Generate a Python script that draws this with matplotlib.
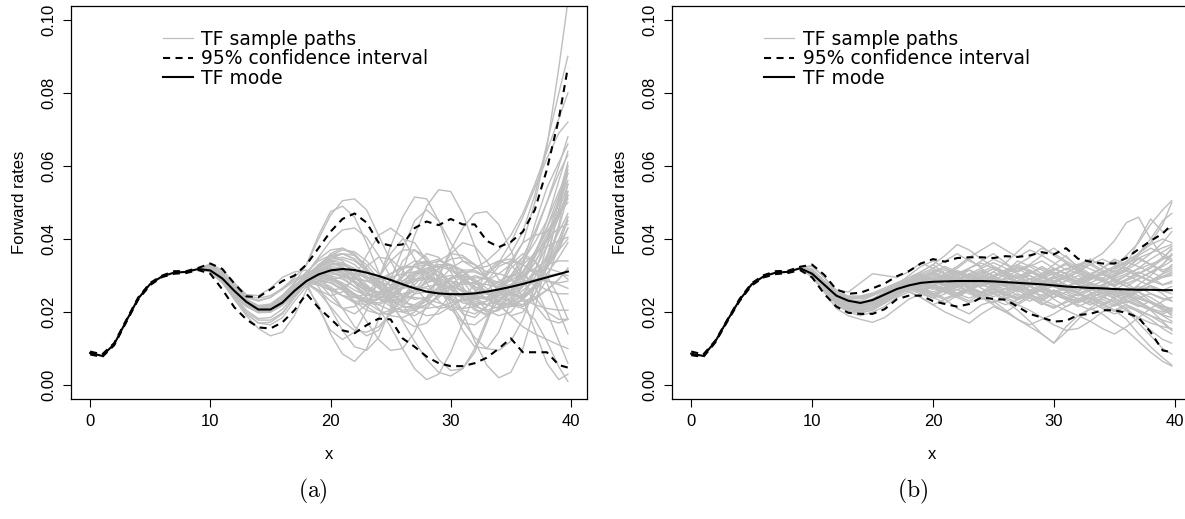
import numpy as np
import matplotlib
matplotlib.use("Agg")
import matplotlib.pyplot as plt

# maturities where the mode / confidence band are read
x_grid = list(range(0, 40)) + [39.75]
# sample paths are only kept from x=9 on (before that they sit on the mode)
x_path = list(range(9, 40)) + [39.75]

# ---- panel (a), all values in percent ----
mode_a = [0.88, 0.80, 1.12, 1.75, 2.37, 2.77, 2.98, 3.08, 3.10, 3.18, 3.14, 2.92, 2.58, 2.28, 2.07,
          2.07, 2.26, 2.58, 2.85, 3.03, 3.14, 3.18, 3.15, 3.08, 2.99, 2.88, 2.76, 2.65, 2.56, 2.51,
          2.49, 2.49, 2.51, 2.56, 2.62, 2.69, 2.77, 2.86, 2.95, 3.04, 3.11]
upper_a = [0.92, 0.84, 1.15, 1.78, 2.40, 2.80, 3.00, 3.12, 3.12, 3.21, 3.33, 3.18, 2.78, 2.43, 2.41,
           2.62, 2.85, 3.00, 3.30, 3.75, 4.20, 4.55, 4.70, 4.45, 3.90, 3.82, 3.85, 4.30, 4.48, 4.38,
           4.55, 4.40, 4.40, 3.95, 3.78, 3.92, 4.20, 4.80, 5.90, 7.30, 8.70]
lower_a = [0.84, 0.77, 1.09, 1.72, 2.34, 2.74, 2.96, 3.05, 3.07, 3.15, 3.05, 2.62, 2.13, 1.80, 1.58,
           1.55, 1.72, 2.05, 2.50, 2.12, 1.82, 1.50, 1.42, 1.64, 1.82, 1.80, 1.28, 1.05, 0.78, 0.60,
           0.52, 0.52, 0.60, 0.75, 1.00, 1.28, 0.90, 0.90, 0.90, 0.55, 0.48]
paths_a = [
    [3.18, 3.30, 3.10, 2.70, 2.40, 2.30, 2.40, 2.65, 2.95, 3.30, 4.00, 4.65, 5.05, 5.10, 4.80, 4.10,
     3.40, 2.80, 2.50, 2.55, 2.85, 3.20, 3.40, 3.30, 2.95, 2.60, 2.50, 2.80, 3.50, 4.50, 5.60, 6.40],
    [3.18, 3.20, 2.85, 2.35, 1.95, 1.70, 1.65, 1.85, 2.30, 2.70, 2.20, 1.40, 0.85, 0.65, 1.00, 1.80,
     2.70, 3.40, 3.70, 3.50, 2.95, 2.35, 1.95, 1.85, 2.15, 2.70, 3.30, 3.60, 3.40, 2.80, 2.00, 1.40],
    [3.18, 3.25, 3.00, 2.62, 2.30, 2.15, 2.20, 2.45, 2.75, 2.95, 2.80, 2.45, 2.10, 1.95, 2.20, 2.90,
     3.80, 4.60, 5.15, 5.10, 4.50, 3.60, 2.70, 2.10, 1.90, 2.10, 2.60, 3.30, 4.10, 5.00, 6.00, 6.80],
    [3.18, 3.10, 2.80, 2.45, 2.15, 2.00, 2.05, 2.30, 2.70, 3.00, 2.70, 2.10, 1.50, 1.05, 0.95, 1.30,
     2.10, 3.10, 4.10, 4.90, 5.35, 5.30, 4.70, 3.80, 2.90, 2.20, 1.90, 2.00, 2.50, 3.30, 4.40, 5.50],
    [3.18, 3.28, 3.05, 2.70, 2.35, 2.15, 2.15, 2.35, 2.70, 3.05, 3.45, 3.70, 3.75, 3.55, 3.20, 2.80,
     2.30, 1.75, 1.20, 0.70, 0.35, 0.25, 0.45, 1.00, 1.80, 2.60, 3.20, 3.50, 3.40, 3.00, 2.40, 1.80],
    [3.18, 3.15, 2.90, 2.55, 2.22, 2.02, 2.00, 2.20, 2.55, 2.95, 3.30, 3.40, 3.20, 2.80, 2.40, 2.10,
     1.60, 1.00, 0.45, 0.15, 0.30, 0.90, 1.70, 2.50, 3.10, 3.40, 3.30, 2.90, 2.40, 2.00, 1.80, 1.80],
    [3.18, 3.22, 2.98, 2.62, 2.30, 2.12, 2.15, 2.38, 2.72, 3.00, 3.25, 3.40, 3.35, 3.10, 2.75, 2.45,
     2.30, 2.35, 2.60, 3.00, 3.40, 3.60, 3.55, 3.30, 3.10, 3.05, 3.30, 3.90, 5.00, 6.50, 8.70, 10.50],
    [3.18, 3.18, 2.92, 2.55, 2.22, 2.05, 2.10, 2.35, 2.70, 2.90, 2.75, 2.60, 2.65, 2.90, 3.25, 3.50,
     3.45, 3.15, 2.70, 2.30, 2.10, 2.15, 2.40, 2.75, 3.05, 3.30, 3.60, 4.20, 5.20, 6.60, 8.00, 9.00],
    [3.18, 3.12, 2.86, 2.50, 2.18, 2.00, 2.02, 2.22, 2.55, 2.85, 3.05, 3.10, 2.95, 2.70, 2.40, 2.20,
     2.05, 2.00, 2.05, 2.20, 2.45, 2.75, 3.00, 3.20, 3.40, 3.70, 4.10, 4.70, 5.50, 6.40, 7.30, 8.00],
    [3.18, 3.20, 2.95, 2.58, 2.25, 2.08, 2.10, 2.30, 2.62, 2.90, 3.20, 3.45, 3.60, 3.55, 3.30, 2.90,
     2.50, 2.25, 2.20, 2.40, 2.70, 2.95, 3.00, 2.85, 2.55, 2.30, 2.20, 2.10, 1.80, 1.20, 0.50, 0.10],
    [3.18, 3.14, 2.88, 2.52, 2.20, 2.02, 2.05, 2.25, 2.55, 2.80, 2.60, 2.30, 2.10, 2.15, 2.45, 2.95,
     3.40, 3.70, 3.70, 3.40, 2.90, 2.40, 2.05, 1.95, 2.15, 2.60, 3.00, 3.10, 2.70, 2.00, 1.20, 0.60],
    [3.18, 3.24, 3.02, 2.68, 2.35, 2.18, 2.22, 2.46, 2.80, 3.10, 3.40, 3.55, 3.40, 3.00, 2.60, 2.50,
     2.90, 3.70, 4.50, 4.80, 4.50, 3.90, 3.40, 3.20, 3.25, 3.40, 3.45, 3.30, 3.10, 3.20, 3.70, 4.30],
    [3.18, 3.16, 2.90, 2.55, 2.24, 2.06, 2.06, 2.24, 2.55, 2.80, 2.10, 1.50, 1.25, 1.45, 2.05, 2.90,
     3.60, 4.00, 3.90, 3.40, 2.70, 2.10, 1.70, 1.65, 1.90, 2.30, 2.70, 3.00, 3.20, 3.40, 3.70, 4.00],
    [3.18, 3.12, 2.85, 2.48, 2.16, 1.98, 2.00, 2.22, 2.55, 2.85, 3.20, 3.50, 3.60, 3.45, 3.15, 2.85,
     2.55, 2.20, 1.75, 1.20, 0.70, 0.40, 0.45, 0.90, 1.70, 2.60, 3.40, 3.90, 4.10, 4.20, 4.60, 5.30],
    [3.18, 3.16, 2.92, 2.60, 2.28, 2.10, 2.12, 2.32, 2.65, 2.95, 3.10, 3.00, 2.70, 2.25, 1.75, 1.25,
     0.95, 1.00, 1.45, 2.20, 3.00, 3.60, 3.90, 3.80, 3.40, 2.90, 2.50, 2.40, 2.70, 3.50, 4.80, 6.00],
    [3.18, 3.17, 2.93, 2.60, 2.27, 2.08, 2.08, 2.27, 2.58, 2.85, 3.10, 3.30, 3.35, 3.20, 2.95, 2.75,
     2.65, 2.65, 2.70, 2.65, 2.50, 2.35, 2.30, 2.40, 2.60, 2.85, 3.00, 3.00, 2.80, 2.60, 2.50, 2.50],
    [3.18, 3.15, 2.90, 2.56, 2.25, 2.08, 2.10, 2.30, 2.62, 2.80, 2.85, 2.90, 2.95, 2.95, 2.85, 2.70,
     2.55, 2.45, 2.40, 2.35, 2.25, 2.15, 2.10, 2.15, 2.30, 2.55, 2.90, 3.30, 3.60, 3.80, 3.95, 4.05],
    [3.18, 3.10, 2.80, 2.35, 1.90, 1.55, 1.35, 1.45, 1.90, 2.60, 3.20, 3.60, 3.75, 3.60, 3.20, 2.70,
     2.20, 1.80, 1.60, 1.70, 2.05, 2.50, 2.85, 3.00, 2.90, 2.60, 2.30, 2.20, 2.50, 3.20, 4.30, 5.20],
    [3.18, 3.32, 3.15, 2.80, 2.48, 2.45, 2.65, 2.95, 3.10, 3.15, 3.00, 2.60, 2.10, 1.60, 1.35, 1.50,
     2.00, 2.70, 3.30, 3.60, 3.50, 3.10, 2.60, 2.20, 2.00, 2.05, 2.30, 2.70, 3.10, 3.30, 3.40, 3.40],
    [3.18, 3.19, 2.94, 2.60, 2.28, 2.10, 2.12, 2.32, 2.64, 2.92, 3.20, 3.35, 3.25, 2.95, 2.65, 2.50,
     2.60, 2.95, 3.30, 3.35, 2.95, 2.25, 1.50, 1.05, 1.00, 1.45, 2.30, 3.30, 4.40, 5.40, 6.10, 6.60],
    [3.18, 3.21, 2.97, 2.62, 2.30, 2.12, 2.14, 2.36, 2.70, 3.05, 3.50, 3.95, 4.25, 4.30, 4.05, 3.55,
     2.95, 2.40, 2.05, 1.90, 1.95, 2.15, 2.35, 2.45, 2.40, 2.20, 1.90, 1.60, 1.40, 1.25, 1.10, 1.00],
    [3.18, 3.13, 2.87, 2.50, 2.18, 2.00, 2.00, 2.18, 2.48, 2.75, 2.85, 2.80, 2.65, 2.45, 2.25, 2.05,
     1.90, 1.85, 2.00, 2.40, 3.00, 3.70, 4.30, 4.70, 4.75, 4.40, 3.70, 2.90, 2.20, 1.80, 1.70, 1.80],
    [3.18, 3.17, 2.91, 2.57, 2.26, 2.08, 2.09, 2.28, 2.60, 2.88, 3.05, 3.15, 3.15, 3.05, 2.95, 2.90,
     2.95, 3.05, 3.10, 3.00, 2.70, 2.25, 1.75, 1.30, 1.00, 0.95, 1.20, 1.80, 2.70, 3.80, 5.00, 5.90],
    [3.18, 3.16, 2.91, 2.57, 2.25, 2.07, 2.08, 2.27, 2.58, 2.88, 3.00, 2.95, 2.80, 2.60, 2.45, 2.45,
     2.60, 2.85, 3.05, 3.10, 3.00, 2.85, 2.75, 2.80, 3.00, 3.35, 3.90, 4.60, 5.40, 6.20, 6.90, 7.20],
    [3.18, 3.15, 2.89, 2.53, 2.21, 2.03, 2.04, 2.24, 2.56, 2.78, 2.55, 2.15, 1.75, 1.50, 1.45, 1.60,
     1.95, 2.40, 2.85, 3.15, 3.25, 3.15, 2.90, 2.60, 2.35, 2.20, 2.15, 2.20, 2.35, 2.60, 2.90, 3.20],
    [3.18, 3.26, 3.04, 2.68, 2.34, 2.16, 2.18, 2.42, 2.80, 3.30, 4.10, 4.75, 4.90, 4.60, 3.90, 3.10,
     2.40, 2.00, 1.90, 2.10, 2.50, 2.90, 3.15, 3.15, 2.95, 2.65, 2.45, 2.45, 2.70, 3.20, 3.90, 4.50],
    [3.18, 3.20, 2.96, 2.62, 2.30, 2.12, 2.13, 2.33, 2.66, 2.95, 3.15, 3.20, 3.05, 2.80, 2.60, 2.55,
     2.70, 3.00, 3.30, 3.40, 3.20, 2.70, 2.00, 1.20, 0.55, 0.20, 0.35, 1.00, 2.10, 3.40, 4.80, 5.80],
    [3.18, 3.14, 2.89, 2.54, 2.23, 2.05, 2.06, 2.26, 2.58, 2.85, 3.00, 3.05, 3.00, 2.90, 2.85, 2.90,
     3.05, 3.20, 3.25, 3.10, 2.80, 2.50, 2.40, 2.55, 2.85, 3.05, 2.95, 2.40, 1.50, 0.60, 0.15, 0.30],
    [3.18, 3.18, 2.93, 2.59, 2.27, 2.09, 2.10, 2.29, 2.60, 2.80, 2.60, 2.45, 2.55, 2.95, 3.55, 4.10,
     4.30, 4.05, 3.45, 2.80, 2.30, 2.05, 2.10, 2.40, 2.85, 3.25, 3.40, 3.30, 3.05, 2.85, 2.80, 2.85],
    [3.18, 3.17, 2.92, 2.58, 2.26, 2.08, 2.09, 2.28, 2.59, 2.90, 3.15, 3.25, 3.20, 3.00, 2.70, 2.40,
     2.15, 2.05, 2.10, 2.30, 2.60, 2.90, 3.10, 3.10, 2.95, 2.80, 2.85, 3.10, 3.60, 4.20, 4.70, 5.00],
    [3.18, 3.16, 2.93, 2.60, 2.29, 2.11, 2.12, 2.31, 2.62, 2.92, 3.25, 3.55, 3.70, 3.65, 3.40, 3.05,
     2.70, 2.45, 2.35, 2.40, 2.55, 2.70, 2.80, 2.80, 2.75, 2.70, 2.75, 2.95, 3.35, 3.95, 4.70, 5.30],
    [3.18, 3.13, 2.87, 2.52, 2.20, 2.02, 2.03, 2.22, 2.53, 2.82, 2.95, 2.90, 2.70, 2.45, 2.25, 2.20,
     2.35, 2.65, 3.00, 3.30, 3.40, 3.30, 3.00, 2.65, 2.35, 2.20, 2.25, 2.50, 2.95, 3.55, 4.20, 4.70],
    [3.18, 3.19, 2.95, 2.61, 2.29, 2.10, 2.11, 2.30, 2.61, 2.88, 3.00, 2.95, 2.75, 2.50, 2.30, 2.25,
     2.40, 2.70, 3.05, 3.35, 3.45, 3.25, 2.85, 2.40, 2.05, 1.90, 2.00, 2.40, 3.10, 4.00, 5.10, 6.00],
    [3.18, 3.15, 2.90, 2.55, 2.23, 2.05, 2.06, 2.25, 2.56, 2.86, 3.10, 3.20, 3.10, 2.85, 2.55, 2.35,
     2.30, 2.40, 2.60, 2.80, 2.90, 2.85, 2.65, 2.40, 2.20, 2.10, 2.15, 2.35, 2.65, 3.05, 3.50, 3.90],
    [3.18, 3.17, 2.92, 2.58, 2.26, 2.08, 2.08, 2.27, 2.58, 2.87, 3.00, 3.00, 2.90, 2.70, 2.50, 2.40,
     2.45, 2.65, 2.95, 3.20, 3.30, 3.20, 2.95, 2.70, 2.55, 2.55, 2.75, 3.10, 3.60, 4.30, 5.20, 6.10],
    [3.18, 3.14, 2.88, 2.45, 2.00, 1.78, 1.78, 1.98, 2.40, 2.80, 2.80, 2.65, 2.45, 2.30, 2.30, 2.50,
     2.85, 3.20, 3.40, 3.35, 3.10, 2.75, 2.40, 2.15, 2.05, 2.15, 2.40, 2.75, 3.05, 3.20, 3.10, 2.90],
    [3.18, 3.18, 2.94, 2.60, 2.28, 2.10, 2.10, 2.29, 2.60, 2.90, 3.20, 3.40, 3.45, 3.30, 3.00, 2.65,
     2.35, 2.15, 2.10, 2.20, 2.40, 2.65, 2.85, 2.95, 2.90, 2.75, 2.55, 2.35, 2.20, 2.10, 2.05, 2.05],
    [3.18, 3.15, 2.91, 2.57, 2.25, 2.07, 2.07, 2.26, 2.57, 2.86, 3.05, 3.10, 3.00, 2.80, 2.55, 2.35,
     2.25, 2.30, 2.50, 2.85, 3.20, 3.45, 3.50, 3.30, 2.95, 2.55, 2.25, 2.15, 2.35, 2.90, 3.80, 4.60],
    [3.18, 3.16, 2.91, 2.56, 2.24, 2.06, 2.07, 2.26, 2.58, 2.84, 2.90, 2.80, 2.60, 2.40, 2.30, 2.35,
     2.55, 2.85, 3.10, 3.20, 3.10, 2.85, 2.55, 2.30, 2.20, 2.30, 2.60, 3.05, 3.55, 4.00, 4.30, 4.40],
    [3.18, 3.25, 3.05, 2.75, 2.45, 2.38, 2.45, 2.65, 2.90, 3.05, 3.25, 3.45, 3.50, 3.40, 3.15, 2.85,
     2.55, 2.30, 2.15, 2.10, 2.15, 2.25, 2.35, 2.40, 2.40, 2.35, 2.30, 2.30, 2.40, 2.60, 2.90, 3.20],
    [3.18, 3.13, 2.86, 2.50, 2.18, 2.00, 2.02, 2.22, 2.54, 2.83, 2.95, 2.85, 2.60, 2.30, 2.05, 1.95,
     2.05, 2.35, 2.75, 3.10, 3.30, 3.30, 3.10, 2.80, 2.55, 2.45, 2.55, 2.85, 3.35, 4.00, 4.80, 5.50],
    [3.18, 3.17, 2.93, 2.59, 2.27, 2.09, 2.09, 2.28, 2.59, 2.89, 3.10, 3.15, 3.05, 2.85, 2.65, 2.55,
     2.60, 2.75, 2.90, 2.95, 2.85, 2.65, 2.45, 2.35, 2.40, 2.60, 2.95, 3.40, 3.90, 4.50, 5.30, 5.80],
    [3.18, 3.20, 2.96, 2.63, 2.31, 2.13, 2.14, 2.34, 2.67, 2.97, 3.30, 3.55, 3.60, 3.45, 3.10, 2.70,
     2.35, 2.15, 2.15, 2.35, 2.65, 2.90, 3.00, 2.90, 2.65, 2.40, 2.30, 2.40, 2.75, 3.30, 4.00, 4.60],
    [3.18, 3.12, 2.82, 2.40, 1.95, 1.70, 1.72, 1.95, 2.40, 2.78, 2.75, 2.60, 2.45, 2.40, 2.50, 2.75,
     3.05, 3.25, 3.25, 3.05, 2.75, 2.45, 2.25, 2.20, 2.30, 2.50, 2.70, 2.85, 2.90, 2.85, 2.75, 2.65],
    [3.18, 3.16, 2.92, 2.58, 2.26, 2.08, 2.08, 2.27, 2.58, 2.88, 3.10, 3.20, 3.15, 2.95, 2.70, 2.50,
     2.40, 2.45, 2.60, 2.80, 2.95, 3.00, 2.90, 2.70, 2.50, 2.40, 2.45, 2.70, 3.15, 3.80, 4.60, 5.20],
    [3.18, 3.15, 2.90, 2.55, 2.23, 2.05, 2.05, 2.24, 2.55, 2.85, 3.00, 2.95, 2.75, 2.45, 2.15, 1.95,
     1.95, 2.15, 2.50, 2.90, 3.20, 3.30, 3.15, 2.85, 2.50, 2.25, 2.20, 2.35, 2.70, 3.20, 3.80, 4.30],
    [3.18, 3.22, 3.00, 2.70, 2.42, 2.32, 2.40, 2.62, 2.85, 3.00, 3.15, 3.30, 3.30, 3.15, 2.95, 2.80,
     2.75, 2.80, 2.90, 2.95, 2.90, 2.75, 2.55, 2.40, 2.35, 2.45, 2.70, 3.10, 3.65, 4.30, 5.00, 5.60],
    [3.18, 3.14, 2.86, 2.45, 2.05, 1.82, 1.85, 2.08, 2.45, 2.82, 2.85, 2.70, 2.45, 2.25, 2.20, 2.35,
     2.65, 3.00, 3.25, 3.30, 3.10, 2.75, 2.35, 2.05, 1.95, 2.05, 2.30, 2.60, 2.85, 3.00, 3.05, 3.00],
    [3.18, 3.17, 2.92, 2.58, 2.27, 2.09, 2.10, 2.29, 2.60, 2.89, 3.15, 3.30, 3.30, 3.15, 2.90, 2.65,
     2.50, 2.50, 2.60, 2.70, 2.75, 2.70, 2.60, 2.50, 2.50, 2.65, 3.00, 3.50, 4.20, 5.00, 5.80, 6.30],
    [3.18, 3.15, 2.90, 2.55, 2.23, 2.05, 2.06, 2.25, 2.57, 2.84, 2.95, 2.90, 2.70, 2.50, 2.35, 2.35,
     2.50, 2.70, 2.85, 2.90, 2.80, 2.60, 2.40, 2.25, 2.20, 2.30, 2.55, 2.95, 3.50, 4.10, 4.70, 5.10],
]

# ---- panel (b), all values in percent ----
mode_b = [0.86, 0.80, 1.20, 1.78, 2.33, 2.76, 2.98, 3.08, 3.10, 3.20, 3.05, 2.75, 2.45, 2.31, 2.25,
          2.33, 2.48, 2.63, 2.73, 2.80, 2.83, 2.84, 2.85, 2.85, 2.85, 2.84, 2.82, 2.80, 2.78, 2.76,
          2.73, 2.70, 2.68, 2.66, 2.65, 2.63, 2.62, 2.61, 2.61, 2.60, 2.60]
upper_b = [0.92, 0.84, 1.22, 1.80, 2.36, 2.79, 3.01, 3.12, 3.13, 3.24, 3.30, 3.02, 2.62, 2.50, 2.53,
           2.65, 2.78, 2.98, 3.12, 3.33, 3.45, 3.38, 3.48, 3.50, 3.50, 3.48, 3.53, 3.51, 3.55, 3.64,
           3.58, 3.75, 3.46, 3.38, 3.33, 3.33, 3.48, 3.72, 3.95, 4.15, 4.40]
lower_b = [0.82, 0.77, 1.17, 1.75, 2.30, 2.73, 2.95, 3.04, 3.07, 3.15, 2.95, 2.50, 2.15, 1.98, 1.95,
           1.95, 2.08, 2.35, 2.45, 2.45, 2.30, 2.22, 2.15, 2.22, 2.40, 2.36, 2.34, 2.15, 1.95, 1.85,
           1.74, 1.76, 1.92, 1.95, 2.05, 2.05, 1.98, 1.85, 1.45, 0.95, 0.90]
paths_b = [
    [3.20, 3.25, 2.95, 2.55, 2.35, 2.30, 2.45, 2.60, 2.80, 2.95, 3.10, 3.30, 3.05, 3.20, 3.45, 3.20,
     2.95, 3.10, 3.40, 3.25, 3.05, 3.30, 3.55, 3.20, 3.00, 2.90, 3.15, 3.40, 3.60, 3.90, 4.40, 5.00],
    [3.20, 3.00, 2.60, 2.20, 2.00, 1.90, 2.00, 2.15, 2.40, 2.55, 2.40, 2.20, 2.35, 2.10, 1.95, 2.20,
     2.30, 2.05, 1.80, 1.60, 1.40, 1.15, 1.60, 1.90, 2.10, 1.95, 1.70, 1.50, 1.20, 0.90, 0.65, 0.52],
    [3.20, 3.15, 2.80, 2.45, 2.25, 2.20, 2.30, 2.50, 2.70, 2.85, 3.00, 2.80, 2.95, 3.10, 2.90, 2.70,
     2.85, 3.05, 2.80, 2.60, 2.75, 2.95, 2.70, 2.55, 2.80, 2.95, 2.70, 2.50, 2.75, 3.00, 3.30, 3.60],
    [3.20, 3.05, 2.70, 2.35, 2.15, 2.10, 2.20, 2.35, 2.55, 2.70, 2.55, 2.40, 2.60, 2.45, 2.30, 2.50,
     2.65, 2.40, 2.25, 2.45, 2.60, 2.35, 2.15, 2.30, 2.50, 2.25, 2.05, 2.20, 2.00, 1.80, 1.55, 1.40],
    [3.20, 3.10, 2.75, 2.40, 2.20, 2.15, 2.30, 2.50, 2.75, 3.00, 3.25, 3.40, 3.20, 3.00, 3.20, 3.40,
     3.60, 3.35, 3.10, 3.30, 3.55, 3.75, 3.50, 3.25, 3.05, 3.20, 3.45, 3.30, 3.60, 4.00, 4.50, 4.70],
    [3.20, 3.05, 2.70, 2.35, 2.20, 2.15, 2.25, 2.45, 2.65, 2.75, 2.60, 2.45, 2.60, 2.75, 2.55, 2.35,
     2.50, 2.30, 2.05, 1.75, 1.40, 1.15, 1.45, 1.80, 2.10, 2.35, 2.20, 2.45, 2.65, 2.80, 2.95, 3.05],
    [3.20, 3.12, 2.78, 2.42, 2.24, 2.20, 2.32, 2.48, 2.64, 2.80, 2.95, 2.85, 2.70, 2.90, 3.05, 2.85,
     2.70, 2.85, 3.00, 2.80, 2.65, 2.80, 2.95, 2.75, 2.60, 2.75, 2.90, 2.70, 2.55, 2.40, 2.20, 2.00],
    [3.20, 3.18, 2.84, 2.48, 2.30, 2.26, 2.36, 2.55, 2.72, 2.80, 2.70, 2.95, 3.15, 2.95, 2.80, 3.00,
     3.20, 3.00, 2.85, 3.05, 3.25, 3.05, 2.90, 3.10, 3.30, 3.10, 2.95, 3.20, 3.50, 3.30, 3.10, 3.20],
    [3.20, 2.95, 2.55, 2.10, 1.90, 1.80, 1.72, 1.85, 2.10, 2.35, 2.50, 2.40, 2.25, 2.45, 2.60, 2.40,
     2.25, 2.45, 2.60, 2.40, 2.20, 2.40, 2.55, 2.35, 2.20, 2.40, 2.60, 2.45, 2.30, 2.10, 1.90, 1.75],
    [3.20, 3.28, 2.95, 2.60, 2.55, 2.80, 3.05, 3.00, 2.95, 3.10, 3.35, 3.20, 3.40, 3.60, 3.40, 3.25,
     3.45, 3.30, 3.10, 3.25, 3.40, 3.20, 3.05, 3.25, 3.45, 3.25, 3.05, 3.30, 3.60, 3.85, 4.00, 3.90],
    [3.20, 3.08, 2.72, 2.38, 2.22, 2.18, 2.26, 2.40, 2.58, 2.68, 2.80, 2.95, 2.75, 2.60, 2.80, 2.95,
     2.75, 2.55, 2.70, 2.90, 2.70, 2.50, 2.65, 2.85, 2.65, 2.45, 2.60, 2.80, 2.55, 2.30, 2.10, 1.95],
    [3.20, 3.10, 2.76, 2.40, 2.24, 2.20, 2.30, 2.46, 2.62, 2.72, 2.60, 2.75, 2.95, 2.80, 2.65, 2.85,
     2.70, 2.50, 2.65, 2.45, 2.30, 2.50, 2.35, 2.15, 2.30, 2.10, 1.95, 2.05, 1.70, 1.35, 1.00, 0.85],
    [3.20, 3.14, 2.80, 2.44, 2.26, 2.22, 2.34, 2.50, 2.68, 2.82, 2.95, 3.10, 2.95, 2.80, 2.95, 3.10,
     2.90, 2.75, 2.95, 3.15, 2.95, 2.80, 2.95, 3.10, 2.95, 2.85, 3.00, 3.30, 3.95, 4.55, 4.20, 4.30],
    [3.20, 3.06, 2.70, 2.36, 2.18, 2.14, 2.24, 2.40, 2.56, 2.65, 2.55, 2.70, 2.55, 2.40, 2.60, 2.75,
     2.95, 2.80, 2.60, 2.80, 3.00, 2.80, 2.65, 2.85, 3.05, 2.85, 2.70, 2.90, 3.10, 2.95, 2.75, 2.85],
    [3.20, 3.16, 2.82, 2.46, 2.28, 2.24, 2.36, 2.54, 2.72, 2.90, 3.10, 3.30, 3.55, 3.85, 3.70, 3.45,
     3.25, 3.05, 3.20, 3.00, 2.80, 2.95, 2.75, 2.60, 2.75, 2.55, 2.40, 2.55, 2.70, 2.50, 2.35, 2.40],
    [3.20, 3.12, 2.78, 2.42, 2.24, 2.20, 2.30, 2.46, 2.62, 2.78, 2.65, 2.85, 3.00, 2.85, 2.70, 2.90,
     3.10, 3.35, 3.65, 3.95, 3.80, 3.55, 3.35, 3.10, 2.90, 3.05, 2.85, 2.70, 2.90, 3.10, 2.95, 3.00],
    [3.20, 3.08, 2.74, 2.38, 2.20, 2.16, 2.26, 2.44, 2.60, 2.70, 2.85, 2.70, 2.55, 2.70, 2.85, 2.65,
     2.50, 2.65, 2.45, 2.30, 2.45, 2.60, 2.40, 2.25, 2.40, 2.20, 2.05, 1.80, 1.40, 1.05, 0.75, 0.55],
    [3.20, 3.15, 2.80, 2.45, 2.27, 2.23, 2.34, 2.52, 2.70, 2.88, 3.05, 2.90, 2.75, 2.95, 3.15, 3.00,
     2.85, 3.05, 3.25, 3.10, 2.95, 3.15, 3.35, 3.15, 3.00, 3.20, 3.40, 3.20, 3.05, 3.25, 3.50, 3.70],
    [3.20, 3.04, 2.68, 2.32, 2.14, 2.10, 2.20, 2.36, 2.52, 2.58, 2.40, 2.20, 2.00, 1.85, 1.70, 1.95,
     2.15, 2.00, 2.20, 2.40, 2.25, 2.10, 2.30, 2.50, 2.35, 2.20, 2.40, 2.60, 2.45, 2.25, 2.05, 2.10],
    [3.20, 3.14, 2.80, 2.45, 2.28, 2.24, 2.35, 2.52, 2.70, 2.85, 3.00, 3.15, 3.05, 3.25, 3.50, 3.70,
     3.90, 3.70, 3.50, 3.70, 3.55, 3.35, 3.15, 3.30, 3.45, 3.25, 3.10, 3.30, 3.55, 3.75, 3.60, 3.45],
    [3.20, 3.10, 2.76, 2.40, 2.22, 2.18, 2.28, 2.44, 2.60, 2.72, 2.58, 2.45, 2.65, 2.85, 2.70, 2.55,
     2.75, 2.95, 2.80, 2.60, 2.40, 2.55, 2.70, 2.50, 2.30, 2.45, 2.25, 2.05, 1.85, 1.70, 1.60, 1.55],
    [3.20, 3.12, 2.78, 2.42, 2.24, 2.20, 2.30, 2.48, 2.64, 2.76, 2.90, 2.75, 2.60, 2.75, 2.55, 2.40,
     2.55, 2.35, 2.20, 2.05, 1.85, 1.65, 1.50, 1.55, 1.75, 2.00, 2.20, 2.40, 2.60, 2.85, 3.05, 3.15],
    [3.20, 3.16, 2.82, 2.46, 2.28, 2.24, 2.36, 2.54, 2.72, 2.88, 2.75, 2.90, 3.05, 2.90, 2.75, 2.95,
     3.10, 2.95, 3.15, 3.30, 3.15, 3.00, 3.20, 3.05, 2.90, 3.05, 3.25, 3.55, 3.90, 4.40, 4.80, 5.05],
    [3.20, 3.06, 2.72, 2.36, 2.20, 2.16, 2.26, 2.42, 2.58, 2.70, 2.85, 3.00, 2.85, 2.70, 2.85, 3.00,
     2.85, 2.70, 2.55, 2.70, 2.55, 2.40, 2.55, 2.70, 2.55, 2.40, 2.30, 2.10, 1.80, 1.50, 1.25, 1.15],
    [3.20, 3.10, 2.76, 2.41, 2.23, 2.19, 2.29, 2.45, 2.62, 2.75, 2.88, 2.75, 2.90, 3.05, 2.90, 2.78,
     2.92, 2.80, 2.68, 2.82, 2.95, 2.82, 2.70, 2.84, 2.96, 2.84, 2.72, 2.86, 3.00, 2.86, 2.74, 2.80],
    [3.20, 3.12, 2.78, 2.43, 2.25, 2.21, 2.31, 2.47, 2.64, 2.80, 2.66, 2.55, 2.68, 2.80, 2.66, 2.54,
     2.66, 2.78, 2.65, 2.52, 2.64, 2.76, 2.62, 2.50, 2.62, 2.74, 2.60, 2.48, 2.60, 2.72, 2.58, 2.50],
    [3.20, 3.13, 2.79, 2.44, 2.26, 2.22, 2.33, 2.50, 2.67, 2.83, 2.98, 2.85, 3.00, 2.85, 3.00, 3.15,
     3.00, 3.15, 3.30, 3.50, 3.75, 3.60, 3.40, 3.20, 3.35, 3.15, 3.00, 3.20, 3.45, 3.30, 3.15, 3.25],
    [3.20, 3.07, 2.72, 2.37, 2.19, 2.15, 2.25, 2.41, 2.57, 2.68, 2.55, 2.70, 2.55, 2.40, 2.25, 2.40,
     2.20, 2.00, 1.80, 1.65, 1.80, 1.95, 2.15, 2.35, 2.20, 2.40, 2.55, 2.40, 2.25, 2.10, 2.00, 2.10],
    [3.20, 3.14, 2.80, 2.45, 2.27, 2.23, 2.34, 2.51, 2.69, 2.84, 2.98, 2.85, 2.72, 2.88, 3.02, 2.88,
     2.75, 2.90, 3.05, 2.90, 2.78, 2.92, 3.08, 3.25, 3.40, 3.60, 3.95, 4.45, 4.60, 4.00, 3.50, 3.40],
    [3.20, 3.09, 2.74, 2.39, 2.21, 2.17, 2.27, 2.43, 2.60, 2.74, 2.62, 2.50, 2.64, 2.78, 2.64, 2.50,
     2.62, 2.48, 2.34, 2.48, 2.34, 2.20, 2.05, 1.90, 1.75, 1.55, 1.40, 1.60, 1.85, 2.10, 2.30, 2.40],
    [3.20, 3.11, 2.77, 2.48, 2.40, 2.42, 2.50, 2.60, 2.70, 2.78, 2.90, 3.05, 2.90, 3.00, 3.15, 3.00,
     2.85, 2.70, 2.85, 3.00, 2.85, 2.70, 2.85, 3.00, 2.80, 2.65, 2.80, 3.00, 3.20, 3.45, 3.65, 3.80],
    [3.20, 3.09, 2.65, 2.20, 2.02, 1.98, 2.05, 2.25, 2.50, 2.72, 2.60, 2.48, 2.62, 2.50, 2.38, 2.52,
     2.66, 2.52, 2.40, 2.56, 2.70, 2.56, 2.42, 2.30, 2.46, 2.60, 2.45, 2.30, 2.15, 2.30, 2.10, 1.90],
    [3.20, 3.13, 2.79, 2.44, 2.26, 2.22, 2.32, 2.49, 2.66, 2.82, 2.95, 3.10, 3.25, 3.10, 2.95, 3.10,
     3.25, 3.10, 2.95, 3.10, 3.00, 3.15, 3.30, 3.15, 3.00, 2.85, 3.00, 3.15, 3.00, 2.85, 3.05, 3.30],
    [3.20, 3.08, 2.70, 2.30, 2.08, 2.02, 2.12, 2.30, 2.50, 2.70, 2.82, 2.70, 2.58, 2.45, 2.60, 2.75,
     2.62, 2.48, 2.35, 2.50, 2.65, 2.80, 2.66, 2.52, 2.38, 2.52, 2.66, 2.50, 2.30, 2.05, 1.75, 1.50],
    [3.20, 3.14, 2.85, 2.55, 2.42, 2.40, 2.48, 2.62, 2.75, 2.84, 2.72, 2.86, 3.00, 3.14, 3.00, 2.86,
     3.00, 3.15, 3.30, 3.15, 3.00, 2.85, 3.00, 3.15, 3.30, 3.45, 3.30, 3.15, 3.35, 3.60, 3.90, 4.20],
    [3.20, 3.10, 2.72, 2.32, 2.12, 2.06, 2.15, 2.34, 2.55, 2.74, 2.62, 2.76, 2.64, 2.52, 2.66, 2.54,
     2.42, 2.56, 2.70, 2.58, 2.46, 2.60, 2.48, 2.36, 2.50, 2.64, 2.52, 2.40, 2.55, 2.70, 2.50, 2.30],
    [3.20, 3.15, 2.81, 2.46, 2.28, 2.24, 2.35, 2.53, 2.71, 2.86, 3.00, 2.88, 2.76, 2.90, 3.04, 2.92,
     2.80, 2.94, 2.82, 2.70, 2.84, 2.98, 2.86, 2.74, 2.88, 3.02, 2.90, 2.78, 2.92, 3.08, 3.25, 3.40],
    [3.20, 3.07, 2.70, 2.28, 2.05, 1.98, 2.08, 2.28, 2.48, 2.66, 2.78, 2.66, 2.54, 2.68, 2.56, 2.44,
     2.58, 2.46, 2.34, 2.48, 2.36, 2.50, 2.38, 2.26, 2.40, 2.28, 2.16, 2.30, 2.18, 2.05, 1.95, 2.05],
    [3.20, 3.12, 2.80, 2.50, 2.38, 2.38, 2.46, 2.60, 2.72, 2.81, 2.95, 2.82, 2.96, 3.10, 2.96, 2.82,
     2.96, 3.10, 3.24, 3.10, 2.96, 3.10, 2.96, 2.82, 2.96, 3.10, 3.24, 3.38, 3.24, 3.10, 3.30, 3.55],
    [3.20, 3.10, 2.75, 2.40, 2.22, 2.18, 2.28, 2.45, 2.61, 2.73, 2.60, 2.47, 2.34, 2.48, 2.62, 2.48,
     2.34, 2.20, 2.34, 2.48, 2.62, 2.48, 2.34, 2.20, 2.06, 2.20, 2.34, 2.20, 2.06, 1.90, 1.70, 1.50],
    [3.20, 3.13, 2.79, 2.44, 2.26, 2.22, 2.33, 2.49, 2.67, 2.79, 2.92, 3.05, 2.92, 2.79, 2.92, 3.05,
     3.18, 3.05, 2.92, 2.79, 2.92, 3.05, 3.18, 3.31, 3.18, 3.05, 2.92, 3.05, 3.18, 3.31, 3.44, 3.57],
    [3.20, 3.11, 2.70, 2.30, 2.10, 2.05, 2.15, 2.35, 2.56, 2.76, 2.88, 2.76, 2.64, 2.52, 2.64, 2.76,
     2.88, 2.76, 2.64, 2.76, 2.88, 2.76, 2.64, 2.52, 2.40, 2.52, 2.64, 2.52, 2.40, 2.28, 2.16, 2.10],
    [3.20, 3.09, 2.74, 2.39, 2.21, 2.17, 2.27, 2.43, 2.60, 2.71, 2.58, 2.72, 2.86, 2.72, 2.86, 3.00,
     2.86, 2.72, 2.86, 2.72, 2.58, 2.72, 2.58, 2.44, 2.58, 2.72, 2.86, 3.00, 2.86, 2.72, 2.60, 2.70],
    [3.20, 3.14, 2.84, 2.52, 2.38, 2.36, 2.45, 2.60, 2.75, 2.86, 2.74, 2.62, 2.76, 2.90, 3.04, 2.90,
     2.76, 2.62, 2.76, 2.90, 3.04, 3.18, 3.04, 2.90, 2.76, 2.62, 2.48, 2.34, 2.20, 2.06, 1.92, 1.85],
    [3.20, 3.12, 2.77, 2.42, 2.24, 2.20, 2.30, 2.46, 2.63, 2.79, 2.92, 3.06, 3.20, 3.06, 3.20, 3.34,
     3.20, 3.06, 2.92, 3.06, 3.20, 3.06, 2.92, 2.78, 2.92, 3.06, 3.20, 3.34, 3.48, 3.62, 3.76, 3.85],
    [3.20, 3.06, 2.66, 2.25, 2.04, 1.98, 2.06, 2.24, 2.44, 2.62, 2.50, 2.38, 2.50, 2.62, 2.50, 2.38,
     2.26, 2.38, 2.50, 2.38, 2.26, 2.14, 2.26, 2.38, 2.26, 2.14, 2.02, 2.14, 2.02, 1.90, 1.78, 1.70],
    [3.20, 3.13, 2.79, 2.44, 2.26, 2.22, 2.32, 2.49, 2.66, 2.83, 2.70, 2.84, 2.98, 2.84, 2.70, 2.84,
     2.98, 2.84, 2.70, 2.56, 2.70, 2.84, 2.98, 2.84, 2.70, 2.84, 2.98, 3.12, 2.98, 2.84, 2.98, 3.10],
    [3.20, 3.10, 2.76, 2.41, 2.23, 2.19, 2.29, 2.46, 2.62, 2.77, 2.64, 2.51, 2.38, 2.51, 2.64, 2.77,
     2.64, 2.51, 2.38, 2.51, 2.64, 2.51, 2.38, 2.51, 2.64, 2.51, 2.38, 2.25, 2.38, 2.51, 2.38, 2.30],
    [3.20, 3.16, 2.86, 2.55, 2.44, 2.44, 2.52, 2.66, 2.80, 2.90, 3.05, 3.20, 3.05, 2.90, 3.05, 3.20,
     3.35, 3.20, 3.05, 2.90, 3.05, 3.20, 3.05, 2.90, 3.05, 2.90, 2.75, 2.90, 3.05, 3.20, 3.45, 3.75],
    [3.20, 3.08, 2.73, 2.38, 2.20, 2.16, 2.26, 2.42, 2.58, 2.69, 2.80, 2.69, 2.58, 2.69, 2.80, 2.91,
     2.80, 2.69, 2.80, 2.91, 2.80, 2.69, 2.58, 2.69, 2.80, 2.69, 2.58, 2.47, 2.36, 2.25, 2.14, 2.05],
]

y_ticks = [0.00, 0.02, 0.04, 0.06, 0.08, 0.10]
x_ticks = [0, 10, 20, 30, 40]
legend_labels = ["TF sample paths", "95% confidence interval", "TF mode"]
captions = ["(a)", "(b)"]

plt.rcParams["font.family"] = ["Liberation Sans", "DejaVu Sans"]
plt.rcParams["mathtext.fontset"] = "cm"

GREY = "#BEBEBE"
DASH = (0, (3.4, 2.6))


def draw_panel(ax, mode, upper, lower, paths):
    # the sample paths first so that the band and the mode sit on top
    for p in paths:
        n = min(len(p), len(x_path))
        ax.plot(x_path[:n], np.array(p[:n]) / 100.0, color=GREY, lw=1.0)
    ax.plot(x_grid, np.array(upper) / 100.0, color="black", lw=1.5, ls=DASH)
    ax.plot(x_grid, np.array(lower) / 100.0, color="black", lw=1.5, ls=DASH)
    ax.plot(x_grid, np.array(mode) / 100.0, color="black", lw=1.5)

    ax.set_xlim(-1.59, 41.34)
    ax.set_ylim(-0.0038, 0.1038)
    ax.set_xticks(x_ticks)
    ax.set_xticklabels([str(t) for t in x_ticks])
    ax.set_yticks(y_ticks)
    ax.set_yticklabels(["%.2f" % t for t in y_ticks], rotation=90, va="center")
    ax.tick_params(direction="out", length=5.8, width=0.8, labelsize=12, pad=5)
    for s in ax.spines.values():
        s.set_linewidth(0.9)
    ax.set_xlabel("x", fontsize=12, labelpad=13)
    ax.set_ylabel("Forward rates", fontsize=12, labelpad=10)

    # legend without a box, as in R with bty="n"
    h_grey = plt.Line2D([], [], color=GREY, lw=0.9)
    h_dash = plt.Line2D([], [], color="black", lw=1.5, ls=DASH)
    h_mode = plt.Line2D([], [], color="black", lw=1.5)
    ax.legend([h_grey, h_dash, h_mode], legend_labels, loc="upper left",
              bbox_to_anchor=(0.178, 0.94), frameon=False, borderpad=0, borderaxespad=0,
              handlelength=1.6, handletextpad=0.45, labelspacing=0.03,
              prop={"family": "DejaVu Sans", "size": 13.5})


fig = plt.figure(figsize=(11.85, 5.19), dpi=100)
ax_a = fig.add_axes([71 / 1185, 1 - 399 / 519, 516 / 1185, 393 / 519])
ax_b = fig.add_axes([672 / 1185, 1 - 399 / 519, 519 / 1185, 393 / 519])

draw_panel(ax_a, mode_a, upper_a, lower_a, paths_a)
draw_panel(ax_b, mode_b, upper_b, lower_b, paths_b)

fig.text(313 / 1185, 1 - 491 / 519, r"$\mathrm{" + captions[0] + "}$", ha="center", va="center", fontsize=17)
fig.text(913 / 1185, 1 - 491 / 519, r"$\mathrm{" + captions[1] + "}$", ha="center", va="center", fontsize=17)

fig.savefig("out.png", dpi=100)
plt.close(fig)
